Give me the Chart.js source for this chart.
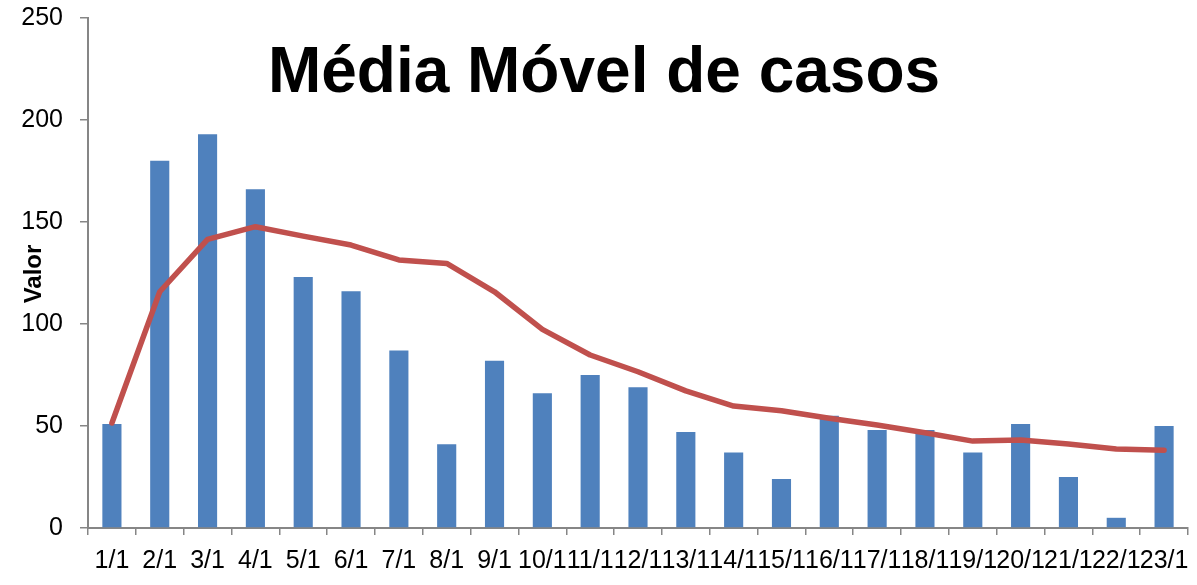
<!DOCTYPE html>
<html>
<head>
<meta charset="utf-8">
<script src="https://cdn.jsdelivr.net/npm/chart.js@4.4.1/dist/chart.umd.min.js"></script>
<style>
  html, body { margin: 0; padding: 0; background: #ffffff; }
  #wrap { width: 1197px; height: 585px; }
</style>
</head>
<body>
<div id="wrap"><canvas id="c" width="1197" height="585"></canvas></div>
<script>
const categories = ["1/1","2/1","3/1","4/1","5/1","6/1","7/1","8/1","9/1","10/1","11/1","12/1","13/1","14/1","15/1","16/1","17/1","18/1","19/1","20/1","21/1","22/1","23/1"];
const casos = [51, 180, 193, 166, 123, 116, 87, 41, 82, 66, 75, 69, 47, 37, 24, 55, 48, 48, 37, 51, 25, 5, 50];
const mediaMovel = [51.5, 115.8, 141.5, 147.7, 143.1, 138.7, 131.4, 129.7, 115.8, 97.4, 84.8, 76.6, 67.2, 59.8, 57.5, 53.8, 50.5, 46.7, 42.6, 43.1, 41.2, 38.7, 38.1];
const yTicks = [0, 50, 100, 150, 200, 250];
const titleText = "Média Móvel de casos";
const yTitleText = "Valor";

const FONT = '"Liberation Sans", Arial, sans-serif';
const AXIS = '#868686';

const textPlugin = {
  id: 'textPlugin',
  afterDraw(chart) {
    const ctx = chart.ctx;
    ctx.save();
    ctx.fillStyle = '#000000';
    ctx.font = 'bold 64px ' + FONT;
    ctx.textAlign = 'center';
    ctx.textBaseline = 'alphabetic';
    ctx.fillText(titleText, 604, 92);
    ctx.translate(34, 274);
    ctx.rotate(-Math.PI / 2);
    ctx.font = 'bold 24px ' + FONT;
    ctx.textBaseline = 'middle';
    ctx.fillText(yTitleText, 0, 0);
    ctx.restore();
  }
};

new Chart(document.getElementById('c'), {
  data: {
    labels: categories,
    datasets: [
      {
        type: 'line',
        label: 'Média móvel',
        data: mediaMovel,
        borderColor: '#C0504D',
        backgroundColor: '#C0504D',
        borderWidth: 5.5,
        pointRadius: 0,
        tension: 0,
        borderCapStyle: 'round',
        borderJoinStyle: 'round',
        order: 0
      },
      {
        type: 'bar',
        label: 'Casos',
        data: casos,
        backgroundColor: '#4F81BD',
        borderWidth: 0,
        categoryPercentage: 1.0,
        barPercentage: 0.4,
        order: 1
      }
    ]
  },
  options: {
    responsive: false,
    animation: false,
    devicePixelRatio: 1,
    layout: { padding: { top: 18, right: 9, left: 0, bottom: 0 } },
    plugins: {
      legend: { display: false },
      tooltip: { enabled: false },
      title: { display: false }
    },
    scales: {
      x: {
        offset: true,
        grid: {
          display: true,
          offset: true,
          drawOnChartArea: false,
          drawTicks: true,
          tickLength: 7,
          color: AXIS,
          lineWidth: 1.5
        },
        border: { display: true, color: AXIS, width: 2 },
        ticks: {
          color: '#000000',
          font: { family: FONT, size: 25 },
          padding: 11,
          maxRotation: 0,
          minRotation: 0,
          autoSkip: false
        },
        afterFit(scale) { scale.height = 57; scale.paddingLeft = 0; scale.paddingRight = 0; }
      },
      y: {
        min: 0,
        max: 250,
        afterBuildTicks(scale) { scale.ticks = yTicks.map(v => ({ value: v })); },
        grid: {
          display: true,
          drawOnChartArea: false,
          drawTicks: true,
          tickLength: 8,
          color: AXIS,
          lineWidth: 1.5
        },
        border: { display: true, color: AXIS, width: 2 },
        ticks: {
          color: '#000000',
          font: { family: FONT, size: 25 },
          padding: 17
        },
        afterFit(scale) { scale.width = 88; scale.paddingTop = 0; scale.paddingBottom = 0; }
      }
    }
  },
  plugins: [textPlugin]
});
</script>
</body>
</html>
